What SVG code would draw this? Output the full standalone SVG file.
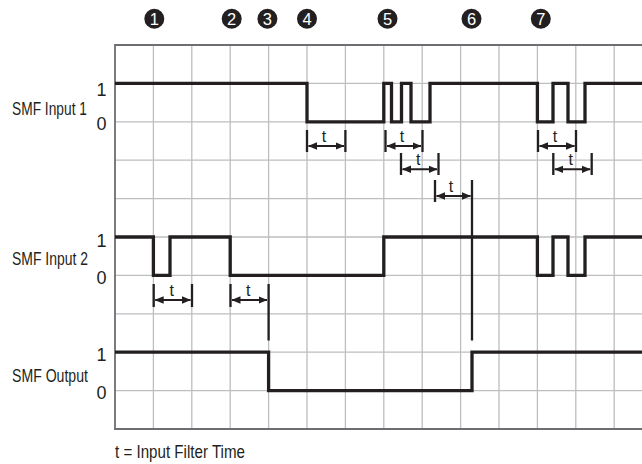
<svg xmlns="http://www.w3.org/2000/svg" width="642" height="464" viewBox="0 0 642 464">
<style>
.grid{stroke:#bcbec0;stroke-width:1.3;fill:none}
.border{stroke:#6d6e71;stroke-width:1.8;fill:none}
.sig{stroke:#231f20;stroke-width:3.3;fill:none;stroke-linejoin:miter}
.tick{stroke:#231f20;stroke-width:2.3;fill:none}
.arr{stroke:#231f20;stroke-width:1.9;fill:none;marker-start:url(#ah);marker-end:url(#ah)}
.lbl{font-family:"Liberation Sans",Arial,sans-serif;font-size:18.5px;fill:#231f20}
.foot{font-family:"Liberation Sans",Arial,sans-serif;font-size:17.5px;fill:#231f20}
.lvl{font-family:"Liberation Sans",Arial,sans-serif;font-size:18px;fill:#231f20;text-anchor:middle}
.t{font-family:"Liberation Sans",Arial,sans-serif;font-size:16px;fill:#231f20;text-anchor:middle}
.num circle{fill:#231f20}
.num text{font-family:"Liberation Sans",Arial,sans-serif;font-size:16.5px;fill:#fff;text-anchor:middle}
</style>
<defs>
<marker id="ah" viewBox="0 0 9 9" refX="8.5" refY="4.5" markerWidth="9" markerHeight="9" markerUnits="userSpaceOnUse" orient="auto-start-reverse">
<path d="M0,0.7 L9,4.5 L0,8.3 Z" fill="#231f20"/>
</marker>
</defs>
<g id="grid">
<path class="grid" d="M153.4,45V429M191.8,45V429M230.2,45V429M268.6,45V429M307,45V429M345.4,45V429M383.8,45V429M422.2,45V429M460.6,45V429M499,45V429M537.4,45V429M575.8,45V429M614.2,45V429"/>
<path class="grid" d="M115,83.4H642M115,121.8H642M115,160.2H642M115,198.6H642M115,237H642M115,275.4H642M115,313.8H642M115,352.2H642M115,390.6H642"/>
<path class="border" d="M642,45H115V429H642"/>
</g>
<g id="markers">
<g id="n1" class="num"><circle cx="154.3" cy="18.8" r="10"/><text x="154.3" y="24.8">1</text></g>
<g id="n2" class="num"><circle cx="231.7" cy="18.8" r="10"/><text x="231.7" y="24.8">2</text></g>
<g id="n3" class="num"><circle cx="267.4" cy="18.8" r="10"/><text x="267.4" y="24.8">3</text></g>
<g id="n4" class="num"><circle cx="307" cy="18.8" r="10"/><text x="307" y="24.8">4</text></g>
<g id="n5" class="num"><circle cx="387.5" cy="18.8" r="10"/><text x="387.5" y="24.8">5</text></g>
<g id="n6" class="num"><circle cx="471.5" cy="18.8" r="10"/><text x="471.5" y="24.8">6</text></g>
<g id="n7" class="num"><circle cx="540.8" cy="18.8" r="10"/><text x="540.8" y="24.8">7</text></g>
</g>
<g id="input1">
<text class="lbl" transform="translate(12,115) scale(0.744,1)">SMF Input 1</text>
<text class="lvl" x="101.5" y="95.5">1</text>
<text class="lvl" x="101.5" y="129.5">0</text>
<path class="sig" d="M115,83.4H307V121.8H383.8V83.4H391.5V121.8H401.5V83.4H411V121.8H430V83.4H537.4V121.8H553V83.4H568V121.8H585V83.4H642"/>
</g>
<g id="input2">
<text class="lbl" transform="translate(12,265) scale(0.754,1)">SMF Input 2</text>
<text class="lvl" x="101.5" y="247">1</text>
<text class="lvl" x="101.5" y="284">0</text>
<path class="sig" d="M115,237H153.4V275.4H170V237H230.2V275.4H383.8V237H537.4V275.4H553V237H568V275.4H585V237H642"/>
</g>
<g id="output">
<text class="lbl" transform="translate(12,381.5) scale(0.762,1)">SMF Output</text>
<text class="lvl" x="101.5" y="360.5">1</text>
<text class="lvl" x="101.5" y="398.5">0</text>
<path class="sig" d="M115,352.2H268.6V390.6H472V352.2H642"/>
</g>
<g id="connectors">
<path class="tick" d="M307,130V152M345.4,130V152"/>
<path class="arr" d="M308.5,146H344"/>
<text class="t" x="324" y="141.5">t</text>
<path class="tick" d="M385.5,130V152M422.5,130V152"/>
<path class="arr" d="M387,146H421"/>
<text class="t" x="402" y="141.5">t</text>
<path class="tick" d="M401,153V175M438.5,153V175"/>
<path class="arr" d="M402.5,169.3H437"/>
<text class="t" x="418.3" y="164.5">t</text>
<path class="tick" d="M435,180V202M472,180V340.5"/>
<path class="arr" d="M436.5,196H470.5"/>
<text class="t" x="451" y="191.5">t</text>
<path class="tick" d="M538,130V152M576,130V152"/>
<path class="arr" d="M539.5,146H574.5"/>
<text class="t" x="555" y="141.5">t</text>
<path class="tick" d="M553.3,153V175M591.7,153V175"/>
<path class="arr" d="M554.8,169.3H590.2"/>
<text class="t" x="570.7" y="164.5">t</text>
<path class="tick" d="M153.7,284V307M192,284V307"/>
<path class="arr" d="M155.2,300H190.5"/>
<text class="t" x="171.7" y="295.5">t</text>
<path class="tick" d="M230.5,284V307M268.6,284V340.5"/>
<path class="arr" d="M232,300H267"/>
<text class="t" x="248.3" y="295.5">t</text>
</g>
<text class="foot" transform="translate(115,457.5) scale(0.865,1)">t = Input Filter Time</text>
</svg>
